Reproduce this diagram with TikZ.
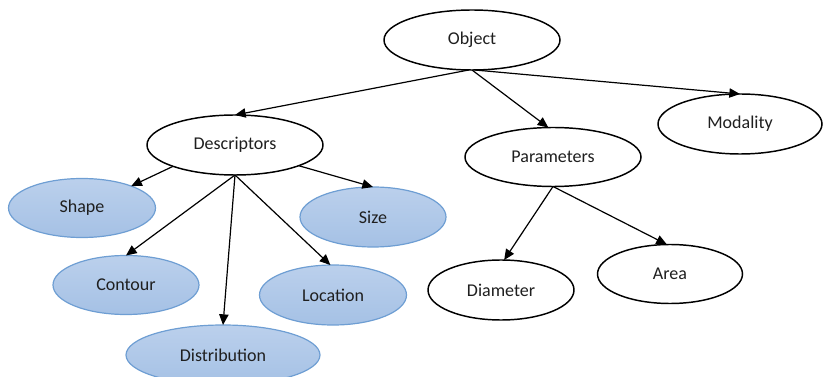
\documentclass[tikz,border=0pt]{standalone}
\usepackage{fontspec}
\setmainfont{Carlito}
\usetikzlibrary{arrows.meta,shapes.geometric}
\definecolor{bfill}{HTML}{A5C1E5}
\definecolor{bfilltop}{HTML}{BBD0EC}
\definecolor{bedge}{HTML}{6E9ED3}
\begin{document}
\begin{tikzpicture}[x=0.75pt,y=-0.75pt,
  base/.style={ellipse,inner sep=0pt,outer sep=0pt,
    font=\fontsize{13.5}{15}\selectfont,text=black!88},
  wnode/.style={base,draw=black,line width=1.1pt,fill=white},
  bnode/.style={base,draw=bedge,line width=0.9pt,top color=bfilltop,bottom color=bfill},
  conn/.style={-{Triangle[length=8pt,width=7pt]},line width=0.9pt}]
\useasboundingbox (0,0) rectangle (823,377);
\begin{scope}
\clip (0,0) rectangle (823,377);
\node[wnode,minimum width=132pt,minimum height=45pt] (object) at (472,40) {Object};
\node[wnode,minimum width=123pt,minimum height=45pt] (modality) at (740,124) {Modality};
\node[wnode,minimum width=132pt,minimum height=44.25pt] (parameters) at (553,157) {Parameters};
\node[wnode,minimum width=109.5pt,minimum height=45pt] (diameter) at (501,290) {Diameter};
\node[wnode,minimum width=108.75pt,minimum height=44.25pt] (area) at (670,274) {Area};
\node[wnode,minimum width=132pt,minimum height=45pt] (descriptors) at (235,145) {Descriptors};
\node[bnode,minimum width=110.25pt,minimum height=44.25pt] (shape) at (82,208) {Shape};
\node[bnode,minimum width=109.5pt,minimum height=45pt] (size) at (373,217) {Size};
\node[bnode,minimum width=109.5pt,minimum height=44.25pt] (contour) at (126,285) {Contour};
\node[bnode,minimum width=110.25pt,minimum height=45pt] (location) at (333,295) {Location};
\node[bnode,minimum width=145.5pt,minimum height=45pt] (distribution) at (223,355) {Distribution};
\end{scope}
% connectors
\draw[conn] (object.264) -- (descriptors.north);
\draw[conn] (object.south) -- (parameters.99);
\draw[conn] (object.275) -- (modality.north);
\draw[conn] (descriptors.199) -- (shape.24);
\draw[conn] (descriptors.342) -- (size.north);
\draw[conn] (descriptors.south) -- (contour.north);
\draw[conn] (descriptors.south) -- (distribution.north);
\draw[conn] (descriptors.south) -- (location.95);
\draw[conn] (parameters.south) -- (diameter.84);
\draw[conn] (parameters.south) -- (area.96);
\end{tikzpicture}
\end{document}
